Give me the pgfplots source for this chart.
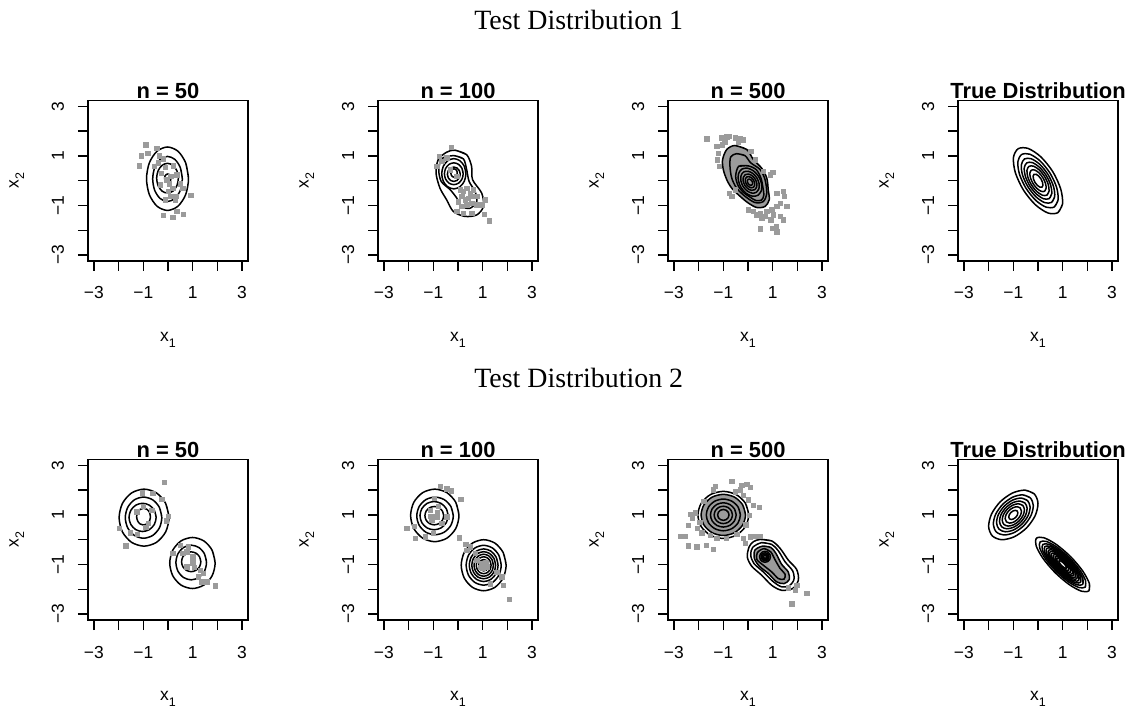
\documentclass[border=0pt]{standalone}
\usepackage{pgfplots}
\pgfplotsset{compat=1.18}
\usepackage{fontspec}
\setmainfont{Liberation Sans}
\newfontfamily\seriffam{Liberation Serif}
\definecolor{pg}{RGB}{155,155,155}
\newcommand{\sub}[1]{\raisebox{-0.32em}{\fontsize{12.5}{12.5}\selectfont #1}}
\pgfplotsset{
  panel/.style={
    scale only axis, width=160bp, height=160.6bp,
    xmin=-3.24, xmax=3.24, ymin=-3.24, ymax=3.24,
    xtick={-3,-2,-1,0,1,2,3}, ytick={-3,-2,-1,0,1,2,3},
    xticklabels={{−3},{},{−1},{},{1},{},{3}},
    yticklabels={{−3},{},{−1},{},{1},{},{3}},
    tick pos=left, tick align=outside, major tick length=10bp,
    tick style={black, line width=1.3bp},
    axis line style={line width=1.3bp},
    tick label style={font=\fontsize{17.5}{17.5}\selectfont},
    xticklabel style={anchor=base}, xticklabel shift=28bp,
    yticklabel style={anchor=base, rotate=90}, yticklabel shift=14bp,
    xlabel={x\sub{1}}, ylabel={x\sub{2}},
    every axis x label/.style={at={(axis description cs:0.5,-0.504)}, anchor=base, font=\fontsize{17.5}{17.5}\selectfont},
    every axis y label/.style={at={(axis description cs:-0.434,0.5)}, rotate=90, anchor=base, font=\fontsize{17.5}{17.5}\selectfont},
    every axis title/.style={at={(axis description cs:0.5,1.0106)}, anchor=base, font=\bfseries\fontsize{22}{22}\selectfont},
  },
  c/.style={smooth, black, line width=1.5bp, mark=none},
  p/.style={only marks, mark=square*, mark size=2.2bp, color=pg, mark options={draw=none, fill=pg}},
  g/.style={smooth, fill=pg, draw=none, mark=none},
}
\begin{document}
\begin{tikzpicture}
\path[use as bounding box] (0,0) rectangle (1135bp,709bp);
\node[font=\seriffam\fontsize{28}{28}\selectfont, anchor=base] at (578.7bp,679.7bp) {Test Distribution 1};
\node[font=\seriffam\fontsize{28}{28}\selectfont, anchor=base] at (578.7bp,321.1bp) {Test Distribution 2};

% ---------------- Row 1, n = 50
\begin{axis}[panel, at={(88bp,448bp)}, anchor=south west, title={n = 50}]
\addplot[p] coordinates {(-0.90,1.46)(-0.82,1.12)(-1.09,1.01)(-1.17,0.61)(-0.46,1.32)(-0.35,1.01)(-0.57,0.58)(-0.19,0.89)(-0.12,0.55)(0.22,0.61)(-0.28,0.31)(-0.05,0.04)(0.05,-0.12)(0.19,-0.30)(0.49,-0.12)(0.59,-0.30)(0.31,-0.63)(0.08,-0.63)(0.92,-0.59)(-0.19,-1.40)(0.19,-1.48)(0.35,-1.24)(0.62,-1.34)(-0.32,-0.16)(0.01,-0.43)(0.28,-0.77)(0.35,0.24)(-0.39,0.72)(0.11,0.18)(-0.12,-0.77)};
\addplot[c] coordinates {(0.83,0.08)(0.716,0.72)(0.405,1.188)(-0.02,1.36)(-0.445,1.188)(-0.756,0.72)(-0.87,0.08)(-0.756,-0.56)(-0.445,-1.028)(-0.02,-1.20)(0.405,-1.028)(0.716,-0.56)(0.83,0.08)(0.716,0.72)};
\addplot[c] coordinates {(0.58,0.07)(0.50,0.525)(0.28,0.858)(-0.02,0.98)(-0.32,0.858)(-0.54,0.525)(-0.62,0.07)(-0.54,-0.385)(-0.32,-0.718)(-0.02,-0.84)(0.28,-0.718)(0.50,-0.385)(0.58,0.07)(0.50,0.525)};
\addplot[c] coordinates {(0.42,0.1)(0.361,0.40)(0.20,0.62)(-0.02,0.70)(-0.24,0.62)(-0.401,0.40)(-0.46,0.1)(-0.401,-0.20)(-0.24,-0.42)(-0.02,-0.50)(0.20,-0.42)(0.361,-0.20)(0.42,0.1)(0.361,0.40)};
\addplot[c] coordinates {(0.12,0.1)(0.103,0.185)(0.055,0.247)(-0.01,0.27)(-0.075,0.247)(-0.123,0.185)(-0.14,0.1)(-0.123,0.015)(-0.075,-0.047)(-0.01,-0.07)(0.055,-0.047)(0.103,0.015)(0.12,0.1)(0.103,0.185)};
\end{axis}

% ---------------- Row 1, n = 100
\begin{axis}[panel, at={(378bp,448bp)}, anchor=south west, title={n = 100}]
\addplot[p] coordinates {(-0.28,1.36)(-0.76,0.99)(-0.86,0.58)(-0.66,0.78)(-0.46,0.92)(0.08,-0.36)(0.22,-0.43)(0.35,-0.30)(0.49,-0.50)(0.15,-0.63)(0.28,-0.77)(0.59,-0.63)(0.76,-0.63)(1.09,-0.77)(0.96,-0.97)(0.76,-0.97)(0.55,-0.90)(0.35,-0.97)(0.15,-1.04)(-0.05,-1.24)(0.22,-1.31)(0.55,-1.31)(1.05,-1.34)(1.26,-1.61)(0.01,-0.84)(0.42,-0.70)(0.62,-0.36)(-0.05,0.18)(-0.32,0.45)};
\addplot[c] coordinates {(-0.12,1.23)(0.35,1.05)(0.55,0.58)(0.59,0.04)(0.96,-0.50)(1.03,-1.04)(0.76,-1.38)(0.28,-1.44)(-0.19,-1.24)(-0.46,-0.77)(-0.73,-0.30)(-0.89,0.31)(-0.80,0.85)(-0.46,1.15)(-0.12,1.23)(0.35,1.05)};
\addplot[c] coordinates {(-0.16,1.01)(0.22,0.88)(0.35,0.45)(0.45,-0.03)(0.69,-0.43)(0.76,-0.84)(0.49,-1.11)(0.15,-1.04)(-0.05,-0.70)(-0.32,-0.36)(-0.68,-0.03)(-0.78,0.45)(-0.64,0.90)(-0.16,1.01)(0.22,0.88)};
\addplot[c] coordinates {(0.32,0.28)(0.254,0.585)(0.075,0.808)(-0.17,0.89)(-0.415,0.808)(-0.594,0.585)(-0.66,0.28)(-0.594,-0.025)(-0.415,-0.248)(-0.17,-0.33)(0.075,-0.248)(0.254,-0.025)(0.32,0.28)(0.254,0.585)};
\addplot[c] coordinates {(0.21,0.28)(0.159,0.50)(0.02,0.661)(-0.17,0.72)(-0.36,0.661)(-0.499,0.50)(-0.55,0.28)(-0.499,0.06)(-0.36,-0.101)(-0.17,-0.16)(0.02,-0.101)(0.159,0.06)(0.21,0.28)(0.159,0.50)};
\addplot[c] coordinates {(0.09,0.26)(0.055,0.405)(-0.04,0.511)(-0.17,0.55)(-0.30,0.511)(-0.395,0.405)(-0.43,0.26)(-0.395,0.115)(-0.30,0.009)(-0.17,-0.03)(-0.04,0.009)(0.055,0.115)(0.09,0.26)(0.055,0.405)};
\addplot[c] coordinates {(-0.03,0.31)(-0.047,0.395)(-0.095,0.457)(-0.16,0.48)(-0.225,0.457)(-0.273,0.395)(-0.29,0.31)(-0.273,0.225)(-0.225,0.163)(-0.16,0.14)(-0.095,0.163)(-0.047,0.225)(-0.03,0.31)(-0.047,0.395)};
\end{axis}

% ---------------- Row 1, n = 500
\begin{axis}[panel, at={(668bp,448bp)}, anchor=south west, title={n = 500}]
\addplot[p] coordinates {(-1.67,1.70)(-1.07,1.73)(-0.86,1.77)(-0.76,1.79)(-0.53,1.73)(-0.32,1.69)(-0.22,1.66)(-1.27,1.39)(-1.20,1.12)(-1.24,0.85)(-1.16,0.58)(0.11,1.19)(0.28,0.85)(0.62,0.38)(1.00,0.35)(0.89,0.24)(-0.76,-0.50)(-0.66,-0.63)(1.16,-0.50)(1.43,-0.43)(1.46,-0.63)(1.30,-0.90)(1.16,-1.04)(0.96,-1.17)(1.03,-1.38)(1.30,-1.44)(0.92,-1.58)(1.13,-1.85)(1.00,-1.92)(1.16,-2.05)(0.49,-1.94)(0.49,-1.31)(0.69,-1.44)(0.22,-1.24)(0.01,-1.17)(0.76,-1.24)(0.55,-1.51)(0.35,-1.38)(1.43,-1.58)(1.57,-1.04)(-0.53,-0.36)(-1.05,1.45)(-0.95,1.55)(-0.40,1.55)};
\addplot[g] coordinates {(-0.53,1.42)(-0.05,1.26)(0.22,0.85)(0.55,0.51)(0.76,0.11)(0.82,-0.36)(0.86,-0.77)(0.69,-1.04)(0.35,-1.08)(0.01,-0.90)(-0.32,-0.63)(-0.66,-0.30)(-0.86,0.04)(-1.00,0.45)(-1.03,0.85)(-0.86,1.26)(-0.53,1.42)};
\addplot[c] coordinates {(-0.53,1.42)(-0.05,1.26)(0.22,0.85)(0.55,0.51)(0.76,0.11)(0.82,-0.36)(0.86,-0.77)(0.69,-1.04)(0.35,-1.08)(0.01,-0.90)(-0.32,-0.63)(-0.66,-0.30)(-0.86,0.04)(-1.00,0.45)(-1.03,0.85)(-0.86,1.26)(-0.53,1.42)(-0.05,1.26)};
\addplot[c] coordinates {(-0.46,1.09)(-0.12,1.01)(0.11,0.72)(0.49,0.45)(0.69,0.04)(0.76,-0.50)(0.62,-0.84)(0.28,-0.88)(-0.12,-0.63)(-0.46,-0.30)(-0.66,0.11)(-0.73,0.58)(-0.70,0.96)(-0.46,1.09)(-0.12,1.01)};
\addplot[c] coordinates {(-0.38,0.58)(0.0,0.60)(0.33,0.45)(0.52,0.12)(0.60,-0.25)(0.64,-0.58)(0.55,-0.78)(0.32,-0.80)(0.08,-0.66)(-0.18,-0.48)(-0.40,-0.20)(-0.50,0.18)(-0.38,0.58)(0.0,0.60)};
\addplot[c] coordinates {(0.409,-0.586)(0.543,-0.404)(0.552,-0.130)(0.436,0.163)(0.224,0.396)(-0.027,0.506)(-0.249,0.466)(-0.383,0.284)(-0.392,0.010)(-0.276,-0.283)(-0.064,-0.516)(0.187,-0.626)(0.409,-0.586)(0.543,-0.404)};
\addplot[c] coordinates {(0.337,-0.470)(0.441,-0.328)(0.448,-0.115)(0.358,0.114)(0.192,0.296)(-0.003,0.381)(-0.177,0.350)(-0.281,0.208)(-0.288,-0.005)(-0.198,-0.234)(-0.032,-0.416)(0.163,-0.501)(0.337,-0.470)(0.441,-0.328)};
\addplot[c] coordinates {(0.271,-0.365)(0.349,-0.260)(0.354,-0.101)(0.286,0.069)(0.164,0.204)(0.018,0.268)(-0.111,0.245)(-0.189,0.140)(-0.194,-0.019)(-0.126,-0.189)(-0.004,-0.324)(0.142,-0.388)(0.271,-0.365)(0.349,-0.260)};
\addplot[c] coordinates {(0.212,-0.270)(0.265,-0.198)(0.269,-0.088)(0.222,0.029)(0.138,0.122)(0.037,0.166)(-0.052,0.150)(-0.105,0.078)(-0.109,-0.032)(-0.062,-0.149)(0.022,-0.242)(0.123,-0.286)(0.212,-0.270)(0.265,-0.198)};
\addplot[c] coordinates {(0.152,-0.176)(0.182,-0.136)(0.184,-0.075)(0.158,-0.011)(0.112,0.040)(0.056,0.065)(0.008,0.056)(-0.022,0.016)(-0.024,-0.045)(0.002,-0.109)(0.048,-0.160)(0.104,-0.185)(0.152,-0.176)(0.182,-0.136)};
\end{axis}

% ---------------- Row 1, True Distribution
\begin{axis}[panel, at={(958bp,448bp)}, anchor=south west, title={True Distribution}]
\addplot[c] coordinates {(0.806,-1.289)(0.995,-0.930)(0.917,-0.324)(0.594,0.371)(0.111,0.966)(-0.401,1.302)(-0.806,1.289)(-0.995,0.930)(-0.917,0.324)(-0.594,-0.371)(-0.111,-0.966)(0.401,-1.302)(0.806,-1.289)(0.995,-0.930)};
\addplot[c] coordinates {(0.661,-1.057)(0.816,-0.763)(0.752,-0.266)(0.487,0.304)(0.091,0.792)(-0.329,1.068)(-0.661,1.057)(-0.816,0.763)(-0.752,0.266)(-0.487,-0.304)(-0.091,-0.792)(0.329,-1.068)(0.661,-1.057)(0.816,-0.763)};
\addplot[c] coordinates {(0.548,-0.877)(0.677,-0.632)(0.624,-0.220)(0.404,0.252)(0.075,0.657)(-0.273,0.885)(-0.548,0.877)(-0.677,0.632)(-0.624,0.220)(-0.404,-0.252)(-0.075,-0.657)(0.273,-0.885)(0.548,-0.877)(0.677,-0.632)};
\addplot[c] coordinates {(0.451,-0.722)(0.557,-0.521)(0.514,-0.181)(0.333,0.208)(0.062,0.541)(-0.225,0.729)(-0.451,0.722)(-0.557,0.521)(-0.514,0.181)(-0.333,-0.208)(-0.062,-0.541)(0.225,-0.729)(0.451,-0.722)(0.557,-0.521)};
\addplot[c] coordinates {(0.363,-0.580)(0.448,-0.419)(0.413,-0.146)(0.267,0.167)(0.050,0.435)(-0.180,0.586)(-0.363,0.580)(-0.448,0.419)(-0.413,0.146)(-0.267,-0.167)(-0.050,-0.435)(0.180,-0.586)(0.363,-0.580)(0.448,-0.419)};
\addplot[c] coordinates {(0.266,-0.425)(0.328,-0.307)(0.303,-0.107)(0.196,0.122)(0.037,0.319)(-0.132,0.430)(-0.266,0.425)(-0.328,0.307)(-0.303,0.107)(-0.196,-0.122)(-0.037,-0.319)(0.132,-0.430)(0.266,-0.425)(0.328,-0.307)};
\addplot[c] coordinates {(0.161,-0.258)(0.199,-0.186)(0.183,-0.065)(0.119,0.074)(0.022,0.193)(-0.080,0.260)(-0.161,0.258)(-0.199,0.186)(-0.183,0.065)(-0.119,-0.074)(-0.022,-0.193)(0.080,-0.260)(0.161,-0.258)(0.199,-0.186)};
\end{axis}

% ---------------- Row 2, n = 50
\begin{axis}[panel, at={(88bp,89bp)}, anchor=south west, title={n = 50}]
\addplot[p] coordinates {(-0.16,2.31)(-1.04,1.90)(-0.62,1.88)(-0.26,1.63)(-1.00,1.34)(-0.66,1.20)(-1.27,1.13)(-0.80,0.66)(-0.90,0.50)(-0.08,0.77)(0.01,0.96)(-1.98,0.46)(-1.54,0.28)(-1.24,0.23)(-1.71,-0.24)(0.49,-0.22)(0.59,-0.55)(0.76,-0.49)(1.00,-0.69)(1.00,-0.93)(1.05,-1.12)(1.30,-1.23)(1.43,-1.36)(1.36,-1.70)(1.57,-1.70)(1.90,-1.86)(0.82,-0.28)(0.19,-0.55)(1.23,-1.50)(0.76,-1.09)};
\addplot[c] coordinates {(0.04,0.89)(-0.095,1.465)(-0.465,1.886)(-0.97,2.04)(-1.475,1.886)(-1.845,1.465)(-1.98,0.89)(-1.845,0.315)(-1.475,-0.106)(-0.97,-0.26)(-0.465,-0.106)(-0.095,0.315)(0.04,0.89)(-0.095,1.465)};
\addplot[c] coordinates {(-0.25,0.89)(-0.349,1.305)(-0.62,1.609)(-0.99,1.72)(-1.36,1.609)(-1.631,1.305)(-1.73,0.89)(-1.631,0.475)(-1.36,0.171)(-0.99,0.06)(-0.62,0.171)(-0.349,0.475)(-0.25,0.89)(-0.349,1.305)};
\addplot[c] coordinates {(-0.48,0.90)(-0.554,1.185)(-0.755,1.394)(-1.03,1.47)(-1.305,1.394)(-1.506,1.185)(-1.58,0.90)(-1.506,0.615)(-1.305,0.406)(-1.03,0.33)(-0.755,0.406)(-0.554,0.615)(-0.48,0.90)(-0.554,1.185)};
\addplot[c] coordinates {(-0.71,0.93)(-0.748,1.10)(-0.85,1.224)(-0.99,1.27)(-1.13,1.224)(-1.232,1.10)(-1.27,0.93)(-1.232,0.76)(-1.13,0.636)(-0.99,0.59)(-0.85,0.636)(-0.748,0.76)(-0.71,0.93)(-0.748,1.10)};
\addplot[c] coordinates {(1.91,-0.94)(1.787,-0.425)(1.45,-0.048)(0.99,0.09)(0.53,-0.048)(0.193,-0.425)(0.07,-0.94)(0.193,-1.455)(0.53,-1.832)(0.99,-1.97)(1.45,-1.832)(1.787,-1.455)(1.91,-0.94)(1.787,-0.425)};
\addplot[c] coordinates {(1.56,-0.92)(1.477,-0.57)(1.25,-0.314)(0.94,-0.22)(0.63,-0.314)(0.403,-0.57)(0.32,-0.92)(0.403,-1.27)(0.63,-1.526)(0.94,-1.62)(1.25,-1.526)(1.477,-1.27)(1.56,-0.92)(1.477,-0.57)};
\addplot[c] coordinates {(1.33,-0.89)(1.278,-0.69)(1.135,-0.544)(0.94,-0.49)(0.745,-0.544)(0.602,-0.69)(0.55,-0.89)(0.602,-1.09)(0.745,-1.236)(0.94,-1.29)(1.135,-1.236)(1.278,-1.09)(1.33,-0.89)(1.278,-0.69)};
\end{axis}

% ---------------- Row 2, n = 100
\begin{axis}[panel, at={(378bp,89bp)}, anchor=south west, title={n = 100}]
\addplot[p] coordinates {(-0.73,2.15)(-0.46,2.05)(-0.28,1.97)(0.11,1.63)(-0.97,1.67)(-0.80,1.34)(-1.13,1.20)(-0.86,0.93)(-1.07,0.80)(-0.46,0.93)(-0.66,0.66)(-2.08,0.46)(-1.78,0.55)(-1.74,0.05)(-1.34,0.12)(-1.00,0.26)(0.04,0.08)(0.31,-0.19)(0.49,-0.28)(0.69,-0.55)(0.76,-0.82)(0.96,-0.96)(1.16,-1.09)(1.57,-1.30)(1.77,-1.50)(1.84,-1.84)(2.08,-2.39)(1.30,-1.77)(0.35,-0.42)(0.95,-0.95)(1.10,-1.05)(1.00,-1.15)(1.15,-0.90)(0.90,-1.10)(-0.85,1.10)(-1.10,0.95)};
\addplot[c] coordinates {(0.04,0.98)(-0.091,1.51)(-0.45,1.898)(-0.94,2.04)(-1.43,1.898)(-1.789,1.51)(-1.92,0.98)(-1.789,0.45)(-1.43,0.062)(-0.94,-0.08)(-0.45,0.062)(-0.091,0.45)(0.04,0.98)(-0.091,1.51)};
\addplot[c] coordinates {(-0.19,0.96)(-0.289,1.34)(-0.56,1.618)(-0.93,1.72)(-1.30,1.618)(-1.571,1.34)(-1.67,0.96)(-1.571,0.58)(-1.30,0.302)(-0.93,0.20)(-0.56,0.302)(-0.289,0.58)(-0.19,0.96)(-0.289,1.34)};
\addplot[c] coordinates {(-0.40,0.97)(-0.476,1.255)(-0.685,1.464)(-0.97,1.54)(-1.255,1.464)(-1.464,1.255)(-1.54,0.97)(-1.464,0.685)(-1.255,0.476)(-0.97,0.40)(-0.685,0.476)(-0.476,0.685)(-0.40,0.97)(-0.476,1.255)};
\addplot[c] coordinates {(-0.58,0.97)(-0.631,1.155)(-0.77,1.29)(-0.96,1.34)(-1.15,1.29)(-1.289,1.155)(-1.34,0.97)(-1.289,0.785)(-1.15,0.65)(-0.96,0.60)(-0.77,0.65)(-0.631,0.785)(-0.58,0.97)(-0.631,1.155)};
\addplot[c] coordinates {(1.95,-1.03)(1.828,-0.515)(1.495,-0.138)(1.04,0.00)(0.585,-0.138)(0.252,-0.515)(0.13,-1.03)(0.252,-1.545)(0.585,-1.922)(1.04,-2.06)(1.495,-1.922)(1.828,-1.545)(1.95,-1.03)(1.828,-0.515)};
\addplot[c] coordinates {(1.75,-1.03)(1.655,-0.628)(1.395,-0.334)(1.04,-0.227)(0.685,-0.334)(0.425,-0.628)(0.33,-1.03)(0.425,-1.432)(0.685,-1.726)(1.04,-1.833)(1.395,-1.726)(1.655,-1.432)(1.75,-1.03)(1.655,-0.628)};
\addplot[c] coordinates {(1.622,-1.03)(1.544,-0.70)(1.331,-0.459)(1.04,-0.371)(0.749,-0.459)(0.536,-0.70)(0.458,-1.03)(0.536,-1.36)(0.749,-1.601)(1.04,-1.689)(1.331,-1.601)(1.544,-1.36)(1.622,-1.03)(1.544,-0.70)};
\addplot[c] coordinates {(1.522,-1.03)(1.457,-0.757)(1.281,-0.557)(1.04,-0.484)(0.799,-0.557)(0.623,-0.757)(0.558,-1.03)(0.623,-1.303)(0.799,-1.503)(1.04,-1.576)(1.281,-1.503)(1.457,-1.303)(1.522,-1.03)(1.457,-0.757)};
\addplot[c] coordinates {(1.431,-1.03)(1.379,-0.808)(1.236,-0.646)(1.04,-0.587)(0.844,-0.646)(0.701,-0.808)(0.649,-1.03)(0.701,-1.252)(0.844,-1.414)(1.04,-1.473)(1.236,-1.414)(1.379,-1.252)(1.431,-1.03)(1.379,-0.808)};
\addplot[c] coordinates {(1.34,-1.03)(1.30,-0.86)(1.19,-0.736)(1.04,-0.69)(0.89,-0.736)(0.78,-0.86)(0.74,-1.03)(0.78,-1.20)(0.89,-1.324)(1.04,-1.37)(1.19,-1.324)(1.30,-1.20)(1.34,-1.03)(1.30,-0.86)};
\addplot[c] coordinates {(1.24,-1.03)(1.213,-0.916)(1.14,-0.833)(1.04,-0.803)(0.94,-0.833)(0.867,-0.916)(0.84,-1.03)(0.867,-1.144)(0.94,-1.227)(1.04,-1.257)(1.14,-1.227)(1.213,-1.144)(1.24,-1.03)(1.213,-0.916)};
\addplot[c] coordinates {(1.122,-1.03)(1.111,-0.983)(1.081,-0.949)(1.04,-0.937)(0.999,-0.949)(0.969,-0.983)(0.958,-1.03)(0.969,-1.077)(0.999,-1.111)(1.04,-1.123)(1.081,-1.111)(1.111,-1.077)(1.122,-1.03)(1.111,-0.983)};
\end{axis}

% ---------------- Row 2, n = 500
\begin{axis}[panel, at={(668bp,89bp)}, anchor=south west, title={n = 500}]
\addplot[p] coordinates {(-1.34,2.17)(-0.66,2.35)(-0.26,2.21)(-0.05,2.25)(0.08,2.12)(-0.32,2.01)(-0.53,1.94)(-1.40,2.01)(0.22,1.40)(0.46,1.30)(0.01,1.61)(-2.35,1.04)(-2.15,1.09)(-2.25,0.86)(-2.42,0.59)(-2.05,0.46)(-2.75,0.15)(-2.55,0.15)(-2.42,-0.24)(-2.08,-0.28)(-1.70,-0.22)(-1.40,-0.39)(-1.88,0.28)(-1.54,0.19)(-1.27,0.05)(-0.89,0.05)(-0.46,0.23)(-0.19,0.05)(-0.12,-0.15)(0.08,0.12)(0.28,0.15)(0.49,0.15)(1.97,-1.84)(1.90,-2.04)(2.38,-2.17)(1.77,-2.58)(1.63,-1.93)(-0.20,1.80)(-1.80,1.55)(-1.95,0.70)(-0.10,0.60)(0.05,1.00)};
\addplot[g] coordinates {(-0.10,1)(-0.221,1.415)(-0.55,1.719)(-1,1.83)(-1.45,1.719)(-1.779,1.415)(-1.90,1)(-1.779,0.585)(-1.45,0.281)(-1,0.17)(-0.55,0.281)(-0.221,0.585)(-0.10,1)};
\addplot[g] coordinates {(0.59,-0.26)(0.92,-0.31)(1.13,-0.55)(1.36,-0.99)(1.63,-1.30)(1.67,-1.61)(1.46,-1.77)(1.16,-1.70)(0.82,-1.36)(0.46,-1.07)(0.26,-0.76)(0.28,-0.42)(0.59,-0.26)};
\addplot[c] coordinates {(0.03,1)(-0.108,1.475)(-0.485,1.823)(-1,1.95)(-1.515,1.823)(-1.892,1.475)(-2.03,1)(-1.892,0.525)(-1.515,0.177)(-1,0.05)(-0.485,0.177)(-0.108,0.525)(0.03,1)(-0.108,1.475)};
\addplot[c] coordinates {(-0.10,1)(-0.221,1.415)(-0.55,1.719)(-1,1.83)(-1.45,1.719)(-1.779,1.415)(-1.90,1)(-1.779,0.585)(-1.45,0.281)(-1,0.17)(-0.55,0.281)(-0.221,0.585)(-0.10,1)(-0.221,1.415)};
\addplot[c] coordinates {(-0.31,1)(-0.402,1.32)(-0.655,1.554)(-1,1.64)(-1.345,1.554)(-1.598,1.32)(-1.69,1)(-1.598,0.68)(-1.345,0.446)(-1,0.36)(-0.655,0.446)(-0.402,0.68)(-0.31,1)(-0.402,1.32)};
\addplot[c] coordinates {(-0.48,1)(-0.55,1.245)(-0.74,1.424)(-1,1.49)(-1.26,1.424)(-1.45,1.245)(-1.52,1)(-1.45,0.755)(-1.26,0.576)(-1,0.51)(-0.74,0.576)(-0.55,0.755)(-0.48,1)(-0.55,1.245)};
\addplot[c] coordinates {(-0.63,1)(-0.68,1.175)(-0.815,1.303)(-1,1.35)(-1.185,1.303)(-1.32,1.175)(-1.37,1)(-1.32,0.825)(-1.185,0.697)(-1,0.65)(-0.815,0.697)(-0.68,0.825)(-0.63,1)(-0.68,1.175)};
\addplot[c] coordinates {(-0.77,1)(-0.801,1.11)(-0.885,1.19)(-1,1.22)(-1.115,1.19)(-1.199,1.11)(-1.23,1)(-1.199,0.89)(-1.115,0.81)(-1,0.78)(-0.885,0.81)(-0.801,0.89)(-0.77,1)(-0.801,1.11)};
\addplot[c] coordinates {(0.49,0.01)(0.96,-0.05)(1.30,-0.35)(1.63,-0.82)(1.97,-1.20)(2.04,-1.63)(1.81,-1.97)(1.36,-2.04)(0.96,-1.84)(0.55,-1.43)(0.15,-1.07)(-0.03,-0.69)(0.05,-0.28)(0.22,-0.08)(0.49,0.01)(0.96,-0.05)};
\addplot[c] coordinates {(0.55,-0.12)(0.96,-0.19)(1.23,-0.45)(1.50,-0.89)(1.81,-1.26)(1.86,-1.61)(1.67,-1.86)(1.36,-1.90)(1.03,-1.70)(0.62,-1.30)(0.24,-0.96)(0.11,-0.62)(0.19,-0.31)(0.55,-0.12)(0.96,-0.19)};
\addplot[c] coordinates {(0.59,-0.26)(0.92,-0.31)(1.13,-0.55)(1.36,-0.99)(1.63,-1.30)(1.67,-1.61)(1.46,-1.77)(1.16,-1.70)(0.82,-1.36)(0.46,-1.07)(0.26,-0.76)(0.28,-0.42)(0.59,-0.26)(0.92,-0.31)};
\addplot[c] coordinates {(0.65,-0.36)(0.92,-0.49)(1.09,-0.80)(1.30,-1.16)(1.50,-1.39)(1.46,-1.59)(1.23,-1.57)(0.96,-1.30)(0.62,-1.03)(0.36,-0.80)(0.38,-0.52)(0.65,-0.36)(0.92,-0.49)};
\addplot[c] coordinates {(0.91,-0.69)(0.881,-0.58)(0.80,-0.499)(0.69,-0.47)(0.58,-0.499)(0.499,-0.58)(0.47,-0.69)(0.499,-0.80)(0.58,-0.881)(0.69,-0.91)(0.80,-0.881)(0.881,-0.80)(0.91,-0.69)(0.881,-0.58)};
\addplot[c] coordinates {(0.85,-0.69)(0.829,-0.61)(0.77,-0.551)(0.69,-0.53)(0.61,-0.551)(0.551,-0.61)(0.53,-0.69)(0.551,-0.77)(0.61,-0.829)(0.69,-0.85)(0.77,-0.829)(0.829,-0.77)(0.85,-0.69)(0.829,-0.61)};
\addplot[c] coordinates {(0.80,-0.69)(0.785,-0.635)(0.745,-0.595)(0.69,-0.58)(0.635,-0.595)(0.595,-0.635)(0.58,-0.69)(0.595,-0.745)(0.635,-0.785)(0.69,-0.80)(0.745,-0.785)(0.785,-0.745)(0.80,-0.69)(0.785,-0.635)};
\addplot[c] coordinates {(0.75,-0.69)(0.742,-0.66)(0.72,-0.638)(0.69,-0.63)(0.66,-0.638)(0.638,-0.66)(0.63,-0.69)(0.638,-0.72)(0.66,-0.742)(0.69,-0.75)(0.72,-0.742)(0.742,-0.72)(0.75,-0.69)(0.742,-0.66)};
\end{axis}

% ---------------- Row 2, True Distribution
\begin{axis}[panel, at={(958bp,89bp)}, anchor=south west, title={True Distribution}]
\addplot[c] coordinates {(-0.151,1.849)(-0.530,2.000)(-1.035,1.883)(-1.530,1.530)(-1.883,1.035)(-2.000,0.530)(-1.849,0.151)(-1.470,0.000)(-0.965,0.117)(-0.470,0.470)(-0.117,0.965)(0.000,1.470)(-0.151,1.849)(-0.530,2.000)};
\addplot[c] coordinates {(-0.312,1.688)(-0.619,1.810)(-1.028,1.715)(-1.429,1.429)(-1.715,1.028)(-1.810,0.619)(-1.688,0.312)(-1.381,0.190)(-0.972,0.285)(-0.571,0.571)(-0.285,0.972)(-0.190,1.381)(-0.312,1.688)(-0.619,1.810)};
\addplot[c] coordinates {(-0.423,1.577)(-0.680,1.680)(-1.024,1.600)(-1.360,1.360)(-1.600,1.024)(-1.680,0.680)(-1.577,0.423)(-1.320,0.320)(-0.976,0.400)(-0.640,0.640)(-0.400,0.976)(-0.320,1.320)(-0.423,1.577)(-0.680,1.680)};
\addplot[c] coordinates {(-0.525,1.475)(-0.737,1.560)(-1.020,1.494)(-1.297,1.297)(-1.494,1.020)(-1.560,0.737)(-1.475,0.525)(-1.263,0.440)(-0.980,0.506)(-0.703,0.703)(-0.506,0.980)(-0.440,1.263)(-0.525,1.475)(-0.737,1.560)};
\addplot[c] coordinates {(-0.618,1.382)(-0.788,1.450)(-1.016,1.397)(-1.239,1.239)(-1.397,1.016)(-1.450,0.788)(-1.382,0.618)(-1.212,0.550)(-0.984,0.603)(-0.761,0.761)(-0.603,0.984)(-0.550,1.212)(-0.618,1.382)(-0.788,1.450)};
\addplot[c] coordinates {(-0.720,1.280)(-0.845,1.330)(-1.012,1.291)(-1.175,1.175)(-1.291,1.012)(-1.330,0.845)(-1.280,0.720)(-1.155,0.670)(-0.988,0.709)(-0.825,0.825)(-0.709,0.988)(-0.670,1.155)(-0.720,1.280)(-0.845,1.330)};
\addplot[c] coordinates {(-0.843,1.157)(-0.913,1.185)(-1.006,1.163)(-1.098,1.098)(-1.163,1.006)(-1.185,0.913)(-1.157,0.843)(-1.087,0.815)(-0.994,0.837)(-0.902,0.902)(-0.837,0.994)(-0.815,1.087)(-0.843,1.157)(-0.913,1.185)};
\addplot[c] coordinates {(2.061,-2.061)(2.078,-1.760)(1.805,-1.255)(1.318,-0.682)(0.745,-0.195)(0.240,0.078)(-0.061,0.061)(-0.078,-0.240)(0.195,-0.745)(0.682,-1.318)(1.255,-1.805)(1.760,-2.078)(2.061,-2.061)(2.078,-1.760)};
\addplot[c] coordinates {(1.912,-1.912)(1.927,-1.654)(1.692,-1.219)(1.273,-0.727)(0.781,-0.308)(0.346,-0.073)(0.088,-0.088)(0.073,-0.346)(0.308,-0.781)(0.727,-1.273)(1.219,-1.692)(1.654,-1.927)(1.912,-1.912)(1.927,-1.654)};
\addplot[c] coordinates {(1.806,-1.806)(1.819,-1.578)(1.612,-1.194)(1.242,-0.758)(0.806,-0.388)(0.422,-0.181)(0.194,-0.194)(0.181,-0.422)(0.388,-0.806)(0.758,-1.242)(1.194,-1.612)(1.578,-1.819)(1.806,-1.806)(1.819,-1.578)};
\addplot[c] coordinates {(1.721,-1.721)(1.733,-1.517)(1.547,-1.173)(1.216,-0.784)(0.827,-0.453)(0.483,-0.267)(0.279,-0.279)(0.267,-0.483)(0.453,-0.827)(0.784,-1.216)(1.173,-1.547)(1.517,-1.733)(1.721,-1.721)(1.733,-1.517)};
\addplot[c] coordinates {(1.647,-1.647)(1.658,-1.464)(1.491,-1.156)(1.194,-0.806)(0.844,-0.509)(0.536,-0.342)(0.353,-0.353)(0.342,-0.536)(0.509,-0.844)(0.806,-1.194)(1.156,-1.491)(1.464,-1.658)(1.647,-1.647)(1.658,-1.464)};
\addplot[c] coordinates {(1.573,-1.573)(1.582,-1.410)(1.435,-1.138)(1.172,-0.828)(0.862,-0.565)(0.590,-0.418)(0.427,-0.427)(0.418,-0.590)(0.565,-0.862)(0.828,-1.172)(1.138,-1.435)(1.410,-1.582)(1.573,-1.573)(1.582,-1.410)};
\addplot[c] coordinates {(1.509,-1.509)(1.517,-1.365)(1.386,-1.122)(1.153,-0.847)(0.878,-0.614)(0.635,-0.483)(0.491,-0.491)(0.483,-0.635)(0.614,-0.878)(0.847,-1.153)(1.122,-1.386)(1.365,-1.517)(1.509,-1.509)(1.517,-1.365)};
\addplot[c] coordinates {(1.446,-1.446)(1.453,-1.319)(1.338,-1.107)(1.134,-0.866)(0.893,-0.662)(0.681,-0.547)(0.554,-0.554)(0.547,-0.681)(0.662,-0.893)(0.866,-1.134)(1.107,-1.338)(1.319,-1.453)(1.446,-1.446)(1.453,-1.319)};
\addplot[c] coordinates {(1.382,-1.382)(1.388,-1.274)(1.290,-1.092)(1.114,-0.886)(0.908,-0.710)(0.726,-0.612)(0.618,-0.618)(0.612,-0.726)(0.710,-0.908)(0.886,-1.114)(1.092,-1.290)(1.274,-1.388)(1.382,-1.382)(1.388,-1.274)};
\addplot[c] coordinates {(1.308,-1.308)(1.313,-1.220)(1.233,-1.074)(1.092,-0.908)(0.926,-0.767)(0.780,-0.687)(0.692,-0.692)(0.687,-0.780)(0.767,-0.926)(0.908,-1.092)(1.074,-1.233)(1.220,-1.313)(1.308,-1.308)(1.313,-1.220)};
\addplot[c] coordinates {(1.233,-1.233)(1.237,-1.167)(1.177,-1.056)(1.070,-0.930)(0.944,-0.823)(0.833,-0.763)(0.767,-0.767)(0.763,-0.833)(0.823,-0.944)(0.930,-1.070)(1.056,-1.177)(1.167,-1.237)(1.233,-1.233)(1.237,-1.167)};
\addplot[c] coordinates {(1.149,-1.149)(1.151,-1.106)(1.113,-1.036)(1.045,-0.955)(0.964,-0.887)(0.894,-0.849)(0.851,-0.851)(0.849,-0.894)(0.887,-0.964)(0.955,-1.045)(1.036,-1.113)(1.106,-1.151)(1.149,-1.149)(1.151,-1.106)};
\end{axis}
\end{tikzpicture}
\end{document}
